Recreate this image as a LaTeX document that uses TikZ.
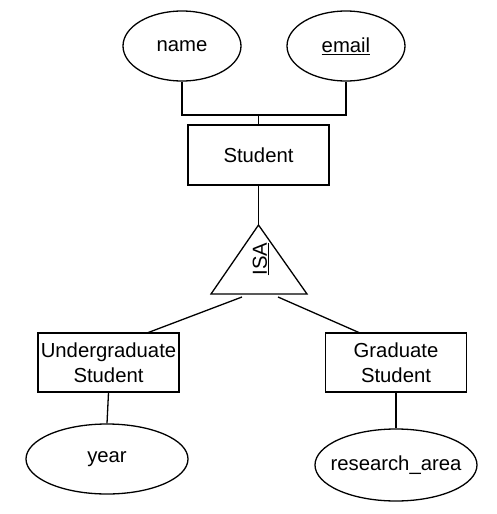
\documentclass[tikz,border=0pt]{standalone}
\usepackage{fontspec}
\setmainfont{Liberation Sans}
\usetikzlibrary{shapes.geometric}
\begin{document}
\begin{tikzpicture}[x=1pt,y=-1pt,line width=1.3pt,
  every node/.style={font=\fontsize{20.3}{25}\selectfont},
  attr/.style={draw,ellipse,minimum width=#1,minimum height=70pt,inner sep=0pt},
  entity/.style={draw,rectangle,minimum width=141pt,minimum height=59pt,inner sep=0pt,align=center}]
\useasboundingbox (0,0) rectangle (496,514);
\node[attr=118pt] (name) at (182,46) {name};
\node[attr=118pt] (email) at (346,46) {\underline{email}};
\node[entity,minimum height=60pt] (student) at (258.5,155) {Student};
\coordinate (join) at (258.5,115);
\draw (name.south) |- (join) -| (email.south);
\draw (join) -- (student.north);
% ISA triangle
\coordinate (apex) at (258.5,225);
\coordinate (bl) at (211,294);
\coordinate (br) at (307,294);
\draw (apex) -- (bl) -- (br) -- cycle;
\draw (student.south) -- (apex);
\node[rotate=90] (isa) at (261,259) {\underline{ISA}};
\coordinate (tl) at (242,297);
\coordinate (tr) at (278,297);
\node[entity] (ug) at (108.5,362.5) {Undergraduate\\Student};
\node[entity] (grad) at (396,362.5) {Graduate\\Student};
\coordinate (ugtop) at (147,333);
\coordinate (gradtop) at (360,333);
\draw (tl) -- (ugtop);
\draw (tr) -- (gradtop);
\node[attr=162pt] (year) at (107,459) {\makebox[0pt]{year}};
\node[attr=162pt,minimum height=72pt] (ra) at (396,465) {\makebox[0pt]{research\_area}};
\draw (ug.south) -- (year.north);
\draw (grad.south) -- (ra.north);
\end{tikzpicture}
\end{document}
